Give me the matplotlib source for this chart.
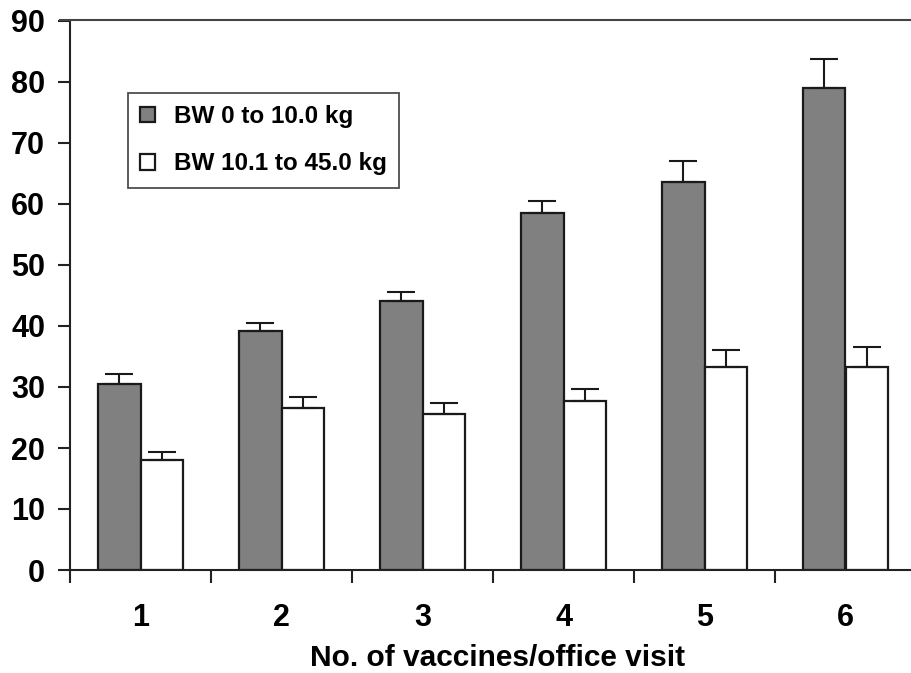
import numpy as np
import matplotlib.pyplot as plt
from matplotlib.lines import Line2D

plt.rcParams['font.family'] = ['Liberation Sans', 'DejaVu Sans']
plt.rcParams['font.weight'] = 'bold'

# data
visits = ['1', '2', '3', '4', '5', '6']
light_bw = [30.5, 39.2, 44.1, 58.5, 63.6, 79.0]
light_err = [1.7, 1.3, 1.5, 2.0, 3.5, 4.8]
heavy_bw = [18.0, 26.5, 25.5, 27.7, 33.2, 33.2]
heavy_err = [1.3, 1.9, 1.8, 1.9, 2.8, 3.4]
labels = ['BW 0 to 10.0 kg', 'BW 10.1 to 45.0 kg']

fig = plt.figure(figsize=(9.11, 6.73), dpi=100)
ax = fig.add_axes([70/911, 1 - 570/673, 846/911, 549/673])

x = np.arange(len(visits))
w = 0.3
ekw = dict(ecolor='#1a1a1a', elinewidth=1.5, capsize=10, capthick=1.5)
ax.bar(x - w/2, light_bw, w, color='#808080', edgecolor='#1a1a1a', linewidth=1.6,
       yerr=[np.zeros(len(x)), light_err], error_kw=ekw, label=labels[0])
ax.bar(x + w/2, heavy_bw, w, color='white', edgecolor='#1a1a1a', linewidth=1.6,
       yerr=[np.zeros(len(x)), heavy_err], error_kw=ekw, label=labels[1])

ax.set_xlim(-0.5, len(visits) - 0.5)
ax.set_ylim(0, 90)
ax.set_yticks(range(0, 91, 10))
ax.set_xticks(x - 0.5, minor=False)
ax.set_xticklabels([])
ax.set_xticks(x, minor=True)
ax.set_xticklabels(visits, minor=True)
ax.tick_params(axis='x', which='major', direction='out', length=9, width=1.5, color='#222222')
ax.tick_params(axis='x', which='minor', length=0, pad=24, labelsize=22)
ax.tick_params(axis='y', direction='out', length=9, width=1.5, color='#222222', labelsize=22, pad=9)
for s in ['top', 'right']:
    ax.spines[s].set_visible(False)
for s in ['left', 'bottom']:
    ax.spines[s].set_linewidth(1.5)
    ax.spines[s].set_color('#222222')

ax.set_xlabel('No. of vaccines/office visit', fontsize=21.5, fontweight='bold')
ax.xaxis.set_label_coords((498 - 70)/846, -0.135)

# frame line along the top
fig.add_artist(Line2D([60/911, 1], [1 - 20/673, 1 - 20/673], color='#444444', lw=1.5))

leg = ax.legend(loc='upper left', bbox_to_anchor=(58/846, 1 - 72/549), fontsize=17.5,
                frameon=True, fancybox=False, edgecolor='#222222', handlelength=0.6,
                handleheight=0.6, handletextpad=0.8, labelspacing=1.0, borderpad=0.5,
                borderaxespad=0)
leg.get_frame().set_linewidth(1.3)

fig.savefig('out.png', dpi=100)
